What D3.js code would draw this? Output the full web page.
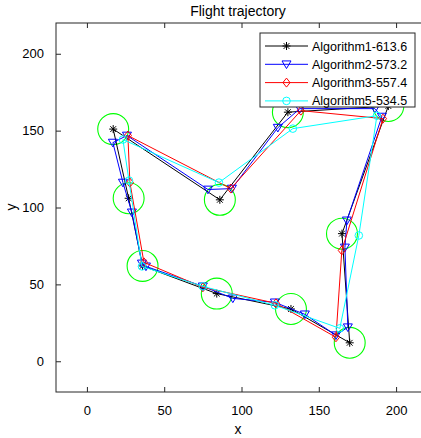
<!DOCTYPE html>
<html><head><meta charset="utf-8">
<script src="https://cdn.jsdelivr.net/npm/d3@7"></script>
<style>body{margin:0;background:#fff;} text{font-family:"Liberation Sans",Arial,sans-serif;}</style>
</head><body><svg id="c" width="421" height="438"></svg>
<script>
// Targets (circle centres) = Algorithm1 waypoints
const targetsX = [17, 27, 36, 84, 132, 170, 165, 195, 130, 86];
const targetsY = [151, 106, 62, 44, 34, 12, 83, 166, 162, 105];
const targetRadius = 10;

const alg1X = [17, 27, 36, 84, 132, 170, 165, 195, 130, 86, 17];
const alg1Y = [151, 106, 62, 44, 34, 12, 83, 166, 162, 105, 151];

const alg2X = [25.9, 16.8, 23.3, 29.1, 35.6, 38.2, 75.0, 94.4, 121.6, 141.0, 161.1, 168.8, 166.9, 168.2, 190.8, 186.3, 137.8, 123.5, 93.8, 78.3, 25.9];
const alg2Y = [146.8, 142.2, 116.2, 96.8, 63.6, 61.7, 48.7, 40.9, 38.3, 30.5, 16.9, 22.1, 74.0, 91.6, 159.1, 164.3, 164.3, 151.9, 112.3, 111.7, 146.8];

const alg3X = [26.5, 27.8, 36.9, 75.0, 122.3, 161.1, 164.9, 191.5, 138.4, 93.1, 26.5];
const alg3Y = [146.8, 116.2, 64.3, 48.1, 37.7, 15.6, 72.1, 157.8, 163.0, 112.3, 146.8];

const alg5X = [23.3, 27.2, 35.6, 75.0, 121.6, 163.6, 175.9, 187.6, 133.2, 85.4, 23.3];
const alg5Y = [144.2, 117.5, 61.7, 48.7, 36.4, 21.4, 81.8, 159.7, 151.3, 116.2, 144.2];

const seriesNames = ["Algorithm1-613.6", "Algorithm2-573.2", "Algorithm3-557.4", "Algorithm5-534.5"];
const seriesColors = ["#000000", "#0000ff", "#ff0000", "#00ffff"];
const seriesMarkers = ["star", "triangle", "diamond", "circle"];
const xTicks = [0, 50, 100, 150, 200];
const yTicks = [0, 50, 100, 150, 200];

const svg = d3.select("#c");
const L = 56, R = 427, T = 23, B = 392;
const x = d3.scaleLinear().domain([-20, 220]).range([L, R]);
const y = d3.scaleLinear().domain([-20, 220]).range([B, T]);

const plot = svg.append("g");
const axisColor = "#262626";

// targets
plot.selectAll("circle.t").data(targetsX.map((v,i)=>[v,targetsY[i]])).enter()
  .append("circle").attr("cx", d=>x(d[0])).attr("cy", d=>y(d[1]))
  .attr("r", x(targetRadius)-x(0)).attr("fill","none").attr("stroke","#00ff00").attr("stroke-width",1.1);

function markerPath(type, cx, cy) {
  if (type === "triangle") { const s=4.5; return `M${cx-s},${cy-s*0.75}L${cx+s},${cy-s*0.75}L${cx},${cy+s*0.95}Z`; }
  if (type === "diamond") { const s=4.5; return `M${cx},${cy-s}L${cx+s*0.8},${cy}L${cx},${cy+s}L${cx-s*0.8},${cy}Z`; }
  if (type === "star") { const s=4; const d=s*0.72;
    return `M${cx-s},${cy}L${cx+s},${cy}M${cx},${cy-s}L${cx},${cy+s}M${cx-d},${cy-d}L${cx+d},${cy+d}M${cx-d},${cy+d}L${cx+d},${cy-d}`; }
  return null;
}
function drawMarker(g, type, cx, cy, color) {
  if (type === "circle") g.append("circle").attr("cx",cx).attr("cy",cy).attr("r",3.8).attr("fill","none").attr("stroke",color).attr("stroke-width",1);
  else g.append("path").attr("d", markerPath(type,cx,cy)).attr("fill","none").attr("stroke",color).attr("stroke-width",1);
}

const series = [[alg1X,alg1Y],[alg2X,alg2Y],[alg3X,alg3Y],[alg5X,alg5Y]];
const line = d3.line().x(d=>x(d[0])).y(d=>y(d[1]));
series.forEach((s,i)=>{
  const pts = s[0].map((v,j)=>[v,s[1][j]]);
  const g = plot.append("g");
  g.append("path").attr("d", line(pts)).attr("fill","none").attr("stroke",seriesColors[i]).attr("stroke-width",1);
  pts.slice(0,-1).forEach(p=>drawMarker(g, seriesMarkers[i], x(p[0]), y(p[1]), seriesColors[i]));
});

// axes box
const axG = svg.append("g");
axG.append("rect").attr("x",L).attr("y",T).attr("width",R-L).attr("height",B-T).attr("fill","none").attr("stroke",axisColor).attr("stroke-width",1);
const xb = axG.append("g").attr("transform",`translate(0,${B})`).call(d3.axisBottom(x).tickValues(xTicks).tickSize(-5).tickPadding(14));
const xt = axG.append("g").attr("transform",`translate(0,${T})`).call(d3.axisTop(x).tickValues(xTicks).tickSize(-5).tickFormat(""));
const yl = axG.append("g").attr("transform",`translate(${L},0)`).call(d3.axisLeft(y).tickValues(yTicks).tickSize(-5).tickPadding(12));
[xb,xt,yl].forEach(a=>{a.select(".domain").remove(); a.selectAll("line").attr("stroke",axisColor); a.selectAll("text").attr("fill","#000").style("font-size","13px").style("font-family","Liberation Sans, Arial, sans-serif");});

// labels
svg.append("text").attr("x",238).attr("y",16).attr("text-anchor","middle").style("font-size","14px").text("Flight trajectory");
svg.append("text").attr("x",238).attr("y",434).attr("text-anchor","middle").style("font-size","14px").text("x");
svg.append("text").attr("transform","translate(16,207) rotate(-90)").attr("text-anchor","middle").style("font-size","14px").text("y");

// legend
const lg = svg.append("g");
lg.append("rect").attr("x",260).attr("y",33).attr("width",155).attr("height",74).attr("fill","#fff").attr("stroke",axisColor).attr("stroke-width",1);
seriesNames.forEach((n,i)=>{
  const yy = 46 + i*18.3;
  lg.append("line").attr("x1",265).attr("x2",308).attr("y1",yy).attr("y2",yy).attr("stroke",seriesColors[i]).attr("stroke-width",1);
  drawMarker(lg, seriesMarkers[i], 286.5, yy, seriesColors[i]);
  lg.append("text").attr("x",312).attr("y",yy+4.5).style("font-size","12.5px").text(n);
});
</script></body></html>
